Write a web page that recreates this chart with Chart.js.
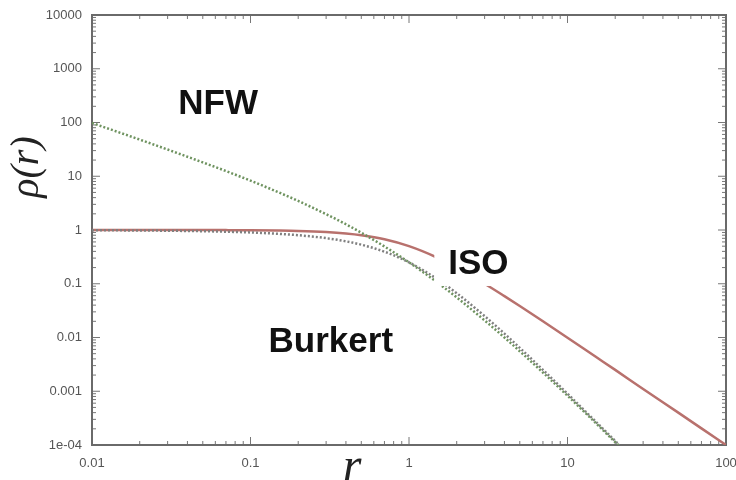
<!DOCTYPE html>
<html>
<head>
<meta charset="utf-8">
<script src="https://cdn.jsdelivr.net/npm/chart.js@4.4.1/dist/chart.umd.min.js"></script>
<style>
  html, body { margin:0; padding:0; background:#fff; }
  #wrap { width:736px; height:480px; position:relative; }
</style>
</head>
<body>
<div id="wrap"><canvas id="c" width="736" height="480"></canvas></div>
<script>
// ---- data (log-log) ----
const R_NFW     = [0.01, 0.02, 0.03, 0.05, 0.07, 0.1, 0.15, 0.2, 0.3, 0.4, 0.5, 0.7, 1, 1.5, 2, 3, 4, 5, 7, 10, 15, 20, 20.9];
const RHO_NFW   = [98, 48.1, 31.4, 18.1, 12.5, 8.26, 5.04, 3.47, 1.97, 1.28, 0.889, 0.494, 0.25, 0.107, 0.0556, 0.0208, 0.01, 0.00556, 0.00223, 0.000826, 0.00026, 0.000113, 0.0001];

const R_ISO     = [0.01, 0.02, 0.03, 0.05, 0.07, 0.1, 0.15, 0.2, 0.3, 0.4, 0.5, 0.7, 1, 1.5, 2, 3, 4, 5, 7, 10, 15, 20, 30, 50, 70, 100];
const RHO_ISO   = [1.0, 1.0, 0.999, 0.998, 0.995, 0.99, 0.978, 0.962, 0.917, 0.862, 0.8, 0.671, 0.5, 0.308, 0.2, 0.1, 0.0588, 0.0385, 0.02, 0.0099, 0.00442, 0.0025, 0.0011, 0.0004, 0.000204, 0.0001];

const R_BUR     = [0.01, 0.02, 0.03, 0.05, 0.07, 0.1, 0.15, 0.2, 0.3, 0.4, 0.5, 0.7, 1, 1.5, 2, 3, 4, 5, 7, 10, 15, 20, 21.2];
const RHO_BUR   = [0.99, 0.98, 0.97, 0.95, 0.93, 0.9, 0.85, 0.801, 0.705, 0.616, 0.533, 0.395, 0.25, 0.123, 0.0667, 0.025, 0.0118, 0.00641, 0.0025, 0.0009, 0.000276, 0.000119, 0.0001];

const X_TICKS        = [0.01, 0.1, 1, 10, 100];
const X_TICK_LABELS  = ['0.01', '0.1', '1', '10', '100'];
const Y_TICKS        = [1e-4, 1e-3, 0.01, 0.1, 1, 10, 100, 1000, 10000];
const Y_TICK_LABELS  = ['1e-04', '0.001', '0.01', '0.1', '1', '10', '100', '1000', '10000'];
const MINOR_STEPS    = [2, 3, 4, 5, 6, 7, 8, 9];

const CURVE_NAMES    = ['NFW', 'ISO', 'Burkert'];
// annotation anchors (data coordinates: left edge / baseline of the word)
const LABEL_ANCHORS  = { NFW: [0.035, 144], ISO: [1.77, 0.152], Burkert: [0.13, 0.0054] };

const toPts = (xs, ys) => xs.map((x, i) => ({ x: x, y: ys[i] }));

const decor = {
  id: 'decor',
  beforeDatasetsDraw(chart) {
    const { ctx, chartArea: a, scales: { x, y } } = chart;
    ctx.save();
    ctx.strokeStyle = '#777';
    ctx.lineWidth = 1;
    ctx.beginPath();
    for (let d = 0; d < X_TICKS.length; d++) {
      const base = X_TICKS[d];
      const px = x.getPixelForValue(base);
      ctx.moveTo(px, a.bottom); ctx.lineTo(px, a.bottom - 8);
      ctx.moveTo(px, a.top); ctx.lineTo(px, a.top + 8);
      if (d < X_TICKS.length - 1) {
        MINOR_STEPS.forEach(m => {
          const p = x.getPixelForValue(base * m);
          ctx.moveTo(p, a.bottom); ctx.lineTo(p, a.bottom - 4);
          ctx.moveTo(p, a.top); ctx.lineTo(p, a.top + 4);
        });
      }
    }
    for (let d = 0; d < Y_TICKS.length; d++) {
      const base = Y_TICKS[d];
      const py = y.getPixelForValue(base);
      ctx.moveTo(a.left, py); ctx.lineTo(a.left + 8, py);
      ctx.moveTo(a.right, py); ctx.lineTo(a.right - 8, py);
      if (d < Y_TICKS.length - 1) {
        MINOR_STEPS.forEach(m => {
          const p = y.getPixelForValue(base * m);
          ctx.moveTo(a.left, p); ctx.lineTo(a.left + 4, p);
          ctx.moveTo(a.right, p); ctx.lineTo(a.right - 4, p);
        });
      }
    }
    ctx.stroke();
    ctx.strokeStyle = '#6a6a6a';
    ctx.lineWidth = 2;
    ctx.strokeRect(a.left, a.top, a.right - a.left, a.bottom - a.top);
    ctx.restore();
  },
  afterDatasetsDraw(chart) {
    const { ctx, scales: { x, y } } = chart;
    ctx.save();
    ctx.font = 'bold 35px "Liberation Sans", Arial, sans-serif';
    ctx.textBaseline = 'alphabetic';
    ctx.textAlign = 'left';
    CURVE_NAMES.forEach(name => {
      const [vx, vy] = LABEL_ANCHORS[name];
      const px = x.getPixelForValue(vx), py = y.getPixelForValue(vy);
      if (name === 'ISO') {
        ctx.fillStyle = '#ffffff';
        ctx.fillRect(px - 14, py - 36, ctx.measureText(name).width + 22, 48);
      }
      ctx.fillStyle = '#111111';
      ctx.fillText(name, px, py);
    });
    ctx.fillStyle = '#222';
    ctx.font = 'italic 48px "Liberation Serif", "DejaVu Serif", serif';
    ctx.textAlign = 'center';
    ctx.fillText('r', 352, 481);
    ctx.save();
    ctx.translate(38, 167);
    ctx.rotate(-Math.PI / 2);
    ctx.font = 'italic 40px "Liberation Serif", "DejaVu Serif", serif';
    ctx.fillText('ρ(r)', 0, 0);
    ctx.restore();
    ctx.restore();
  }
};

new Chart(document.getElementById('c'), {
  type: 'line',
  data: {
    datasets: [
      { label: 'NFW', data: toPts(R_NFW, RHO_NFW), borderColor: '#6f9360', borderWidth: 2.5, borderDash: [2, 2], pointRadius: 0, cubicInterpolationMode: 'monotone' },
      { label: 'Burkert', data: toPts(R_BUR, RHO_BUR), borderColor: '#808080', borderWidth: 2.5, borderDash: [2, 2], pointRadius: 0, cubicInterpolationMode: 'monotone' },
      { label: 'ISO', data: toPts(R_ISO, RHO_ISO), borderColor: '#b8716d', borderWidth: 2.5, pointRadius: 0, cubicInterpolationMode: 'monotone' }
    ]
  },
  options: {
    responsive: false,
    animation: false,
    layout: { padding: { left: 0, top: 15, right: 10, bottom: 0 } },
    plugins: { legend: { display: false }, tooltip: { enabled: false } },
    scales: {
      x: {
        type: 'logarithmic', min: 0.01, max: 100,
        afterBuildTicks: s => { s.ticks = X_TICKS.map(v => ({ value: v })); },
        afterFit: s => { s.height = 35; s.paddingLeft = 0; s.paddingRight = 0; },
        grid: { display: false, drawTicks: false },
        border: { display: false },
        ticks: {
          autoSkip: false, maxRotation: 0, padding: 11, color: '#555',
          font: { family: '"Liberation Sans", Arial, sans-serif', size: 13 },
          callback: (v, i) => X_TICK_LABELS[i]
        }
      },
      y: {
        type: 'logarithmic', min: 1e-4, max: 10000,
        afterBuildTicks: s => { s.ticks = Y_TICKS.map(v => ({ value: v })); },
        afterFit: s => { s.width = 92; s.paddingTop = 0; s.paddingBottom = 0; },
        grid: { display: false, drawTicks: false },
        border: { display: false },
        ticks: {
          autoSkip: false, padding: 10, color: '#555',
          font: { family: '"Liberation Sans", Arial, sans-serif', size: 13 },
          callback: (v, i) => Y_TICK_LABELS[i]
        }
      }
    }
  },
  plugins: [decor]
});
</script>
</body>
</html>
